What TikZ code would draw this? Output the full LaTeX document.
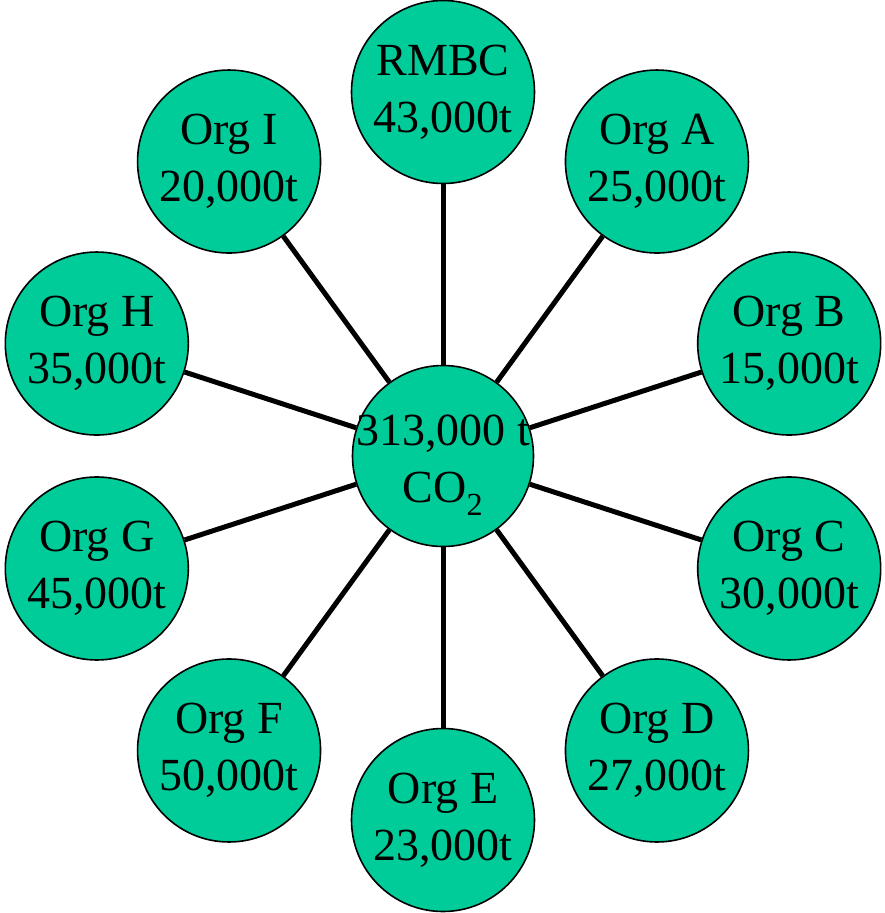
\documentclass[tikz,border=0pt]{standalone}
\usepackage{fontspec}
\setmainfont{Liberation Serif}
\usetikzlibrary{calc,backgrounds}
\definecolor{bubble}{HTML}{00CC99}
\newcommand{\lowerline}[1]{\makebox[0pt]{\raisebox{-9pt}[\height][\depth]{#1}}}
\begin{document}
\begin{tikzpicture}[x=1pt,y=1pt,
  bub/.style={circle, draw=black, line width=1.6pt, fill=bubble, minimum size=183pt, inner sep=0pt, align=center, font=\fontsize{46}{57}\selectfont},
  link/.style={line width=5pt, draw=black}]
\useasboundingbox (0,0) rectangle (884,-913);
\coordinate (o) at (443,-456);
\node[bub, minimum size=181pt] (c) at (o) {\lowerline{313,000 t}\\\lowerline{CO\textsubscript{2}}};
\node[bub] (r) at ($(o)+(90:364)$) {RMBC\\43,000t};
\node[bub] (a) at ($(o)+(54:364)$) {Org A\\25,000t};
\node[bub] (b) at ($(o)+(18:364)$) {Org B\\15,000t};
\node[bub] (cc) at ($(o)+(-18:364)$) {Org C\\30,000t};
\node[bub] (d) at ($(o)+(-54:364)$) {Org D\\27,000t};
\node[bub] (e) at ($(o)+(-90:364)$) {Org E\\23,000t};
\node[bub] (f) at ($(o)+(-126:364)$) {Org F\\50,000t};
\node[bub] (g) at ($(o)+(-162:364)$) {Org G\\45,000t};
\node[bub] (h) at ($(o)+(162:364)$) {Org H\\35,000t};
\node[bub] (i) at ($(o)+(126:364)$) {Org I\\20,000t};
\begin{scope}[on background layer]
\foreach \n in {r,a,b,cc,d,e,f,g,h,i} \draw[link] (c) -- (\n);
\end{scope}
\end{tikzpicture}
\end{document}
